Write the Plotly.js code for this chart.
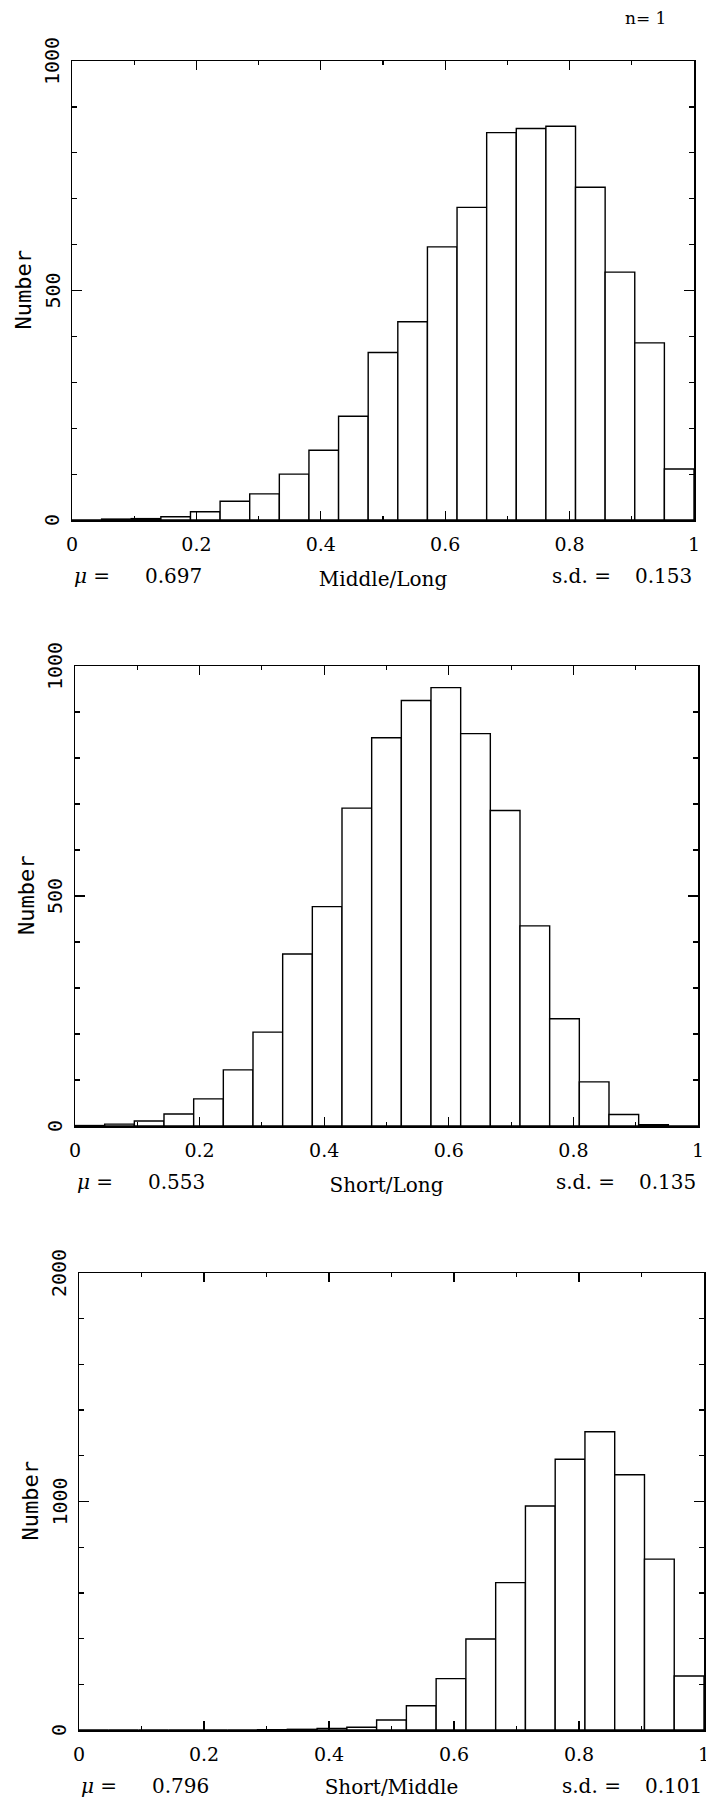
<!DOCTYPE html>
<html><head><meta charset="utf-8">
<script src="https://cdn.plot.ly/plotly-3.0.1.min.js"></script>
<style>html,body{margin:0;padding:0;background:#fff}</style>
</head><body><div id="chart" style="width:706px;height:1799px"></div>
<script>
// ---- data (21 equal bins between 0 and 1) ----
const nBins = 21;
const middleLong  = [0, 2, 3, 7, 18, 41, 57, 100, 152, 226, 365, 432, 595, 681, 844, 853, 858, 725, 540, 386, 111];
const shortLong   = [1, 4, 11, 26, 59, 122, 204, 374, 477, 691, 844, 925, 953, 853, 686, 435, 233, 96, 25, 3, 0];
const shortMiddle = [0, 0, 0, 0, 0, 0, 1, 3, 7, 12, 44, 106, 225, 398, 645, 980, 1185, 1305, 1117, 748, 236];
const panelTitles = ['Middle/Long', 'Short/Long', 'Short/Middle'];
const yTitle = 'Number';
const meanVals = ['0.697', '0.553', '0.796'];
const sdVals   = ['0.153', '0.135', '0.101'];
const xTickVals = [0, 0.2, 0.4, 0.6, 0.8, 1];
const xTickText = ['0', '0.2', '0.4', '0.6', '0.8', '1'];
const xMinorVals = [0.1, 0.3, 0.5, 0.7, 0.9];
const yTickVals = [[0, 500, 1000], [0, 500, 1000], [0, 1000, 2000]];
const yTickText = [['0', '500', '1000'], ['0', '500', '1000'], ['0', '1000', '2000']];
const yMaxVals = [1000, 1000, 2000];
const yMinorStep = [100, 100, 200];
const nLabel = 'n= 1';

// ---- layout geometry (pixels) ----
const W = 706, H = 1799;
const boxes = [
  {l: 72, r: 694, t: 61,   b: 520},
  {l: 75, r: 698, t: 666,  b: 1126},
  {l: 79, r: 704, t: 1273, b: 1730}
];
const px = v => v / W;
const py = v => 1 - v / H;

const binCenters = Array.from({length: nBins}, (_, i) => (i + 0.5) / nBins);
const series = [middleLong, shortLong, shortMiddle];

const serif = 'DejaVu Serif, Liberation Serif, serif';
const mono = 'DejaVu Sans Mono, Liberation Mono, monospace';

const traces = series.map((vals, i) => ({
  type: 'bar',
  x: binCenters,
  y: vals,
  width: 1 / nBins,
  xaxis: i === 0 ? 'x' : 'x' + (i + 1),
  yaxis: i === 0 ? 'y' : 'y' + (i + 1),
  marker: {color: '#ffffff', line: {color: '#000000', width: 1.4}},
  showlegend: false,
  hoverinfo: 'skip'
}));

const layout = {
  width: W, height: H,
  margin: {l: 0, r: 0, t: 0, b: 0},
  paper_bgcolor: '#ffffff',
  plot_bgcolor: '#ffffff',
  bargap: 0,
  showlegend: false,
  annotations: []
};

boxes.forEach((b, i) => {
  const sfx = i === 0 ? '' : String(i + 1);
  const yref = 'y' + sfx;
  layout['xaxis' + sfx] = {
    domain: [px(b.l), px(b.r)],
    anchor: 'y' + sfx,
    range: [0, 1],
    tickvals: xTickVals, ticktext: xTickText,
    ticks: 'inside', ticklen: 9, tickwidth: 1.3, tickcolor: '#000',
    showline: true, linewidth: 1.5, linecolor: '#000', mirror: 'ticks',
    showgrid: false, zeroline: false,
    tickfont: {family: serif, size: 19, color: '#000'},
    ticklabelstandoff: 7,
    ticklabeloverflow: 'allow',
    minor: {tickvals: xMinorVals, ticks: 'inside', ticklen: 4, tickwidth: 1.2, tickcolor: '#000', showgrid: false},
    title: {text: panelTitles[i], font: {family: serif, size: 20, color: '#000'}, standoff: 17},
    fixedrange: true
  };
  layout['yaxis' + sfx] = {
    domain: [py(b.b), py(b.t)],
    anchor: 'x' + sfx,
    range: [0, yMaxVals[i]],
    tickvals: yTickVals[i],
    showticklabels: false,
    ticks: 'inside', ticklen: 10, tickwidth: 1.3, tickcolor: '#000',
    showline: true, linewidth: 1.5, linecolor: '#000', mirror: 'ticks',
    showgrid: false, zeroline: false,
    minor: {dtick: yMinorStep[i], tick0: 0, ticks: 'inside', ticklen: 5, tickwidth: 1.2, tickcolor: '#000', showgrid: false},
    fixedrange: true
  };
  // rotated y tick labels, placed on the axis scale
  yTickVals[i].forEach((v, k) => {
    layout.annotations.push({
      xref: 'paper', yref: yref, x: px(b.l - 20), y: v, xanchor: 'center', yanchor: 'middle',
      text: yTickText[i][k], textangle: -90, showarrow: false,
      font: {family: mono, size: 20, color: '#000'}
    });
  });
  layout.annotations.push({
    xref: 'paper', yref: yref, x: px(b.l - 49), y: yTickVals[i][1], xanchor: 'center', yanchor: 'middle',
    text: yTitle, textangle: -90, showarrow: false,
    font: {family: mono, size: 22, color: '#000'}
  });
  const yText = b.b + 56;
  layout.annotations.push(
    {xref: 'paper', yref: 'paper', x: px(b.l), y: py(yText), xanchor: 'left', yanchor: 'middle',
     text: '<i>μ</i> =', showarrow: false, font: {family: serif, size: 20, color: '#000'}},
    {xref: 'paper', yref: 'paper', x: px(b.l + 71), y: py(yText), xanchor: 'left', yanchor: 'middle',
     text: meanVals[i], showarrow: false, font: {family: serif, size: 20, color: '#000'}},
    {xref: 'paper', yref: 'paper', x: px(b.r - 144), y: py(yText), xanchor: 'left', yanchor: 'middle',
     text: 's.d. =', showarrow: false, font: {family: serif, size: 20, color: '#000'}},
    {xref: 'paper', yref: 'paper', x: px(b.r), y: py(yText), xanchor: 'right', yanchor: 'middle',
     text: sdVals[i], showarrow: false, font: {family: serif, size: 20, color: '#000'}}
  );
});

layout.annotations.push({
  xref: 'paper', yref: 'paper', x: px(623), y: py(18), xanchor: 'left', yanchor: 'middle',
  text: nLabel, showarrow: false, font: {family: serif, size: 17, color: '#000'}
});

Plotly.newPlot('chart', traces, layout, {staticPlot: true, displayModeBar: false});
</script>
</body></html>
